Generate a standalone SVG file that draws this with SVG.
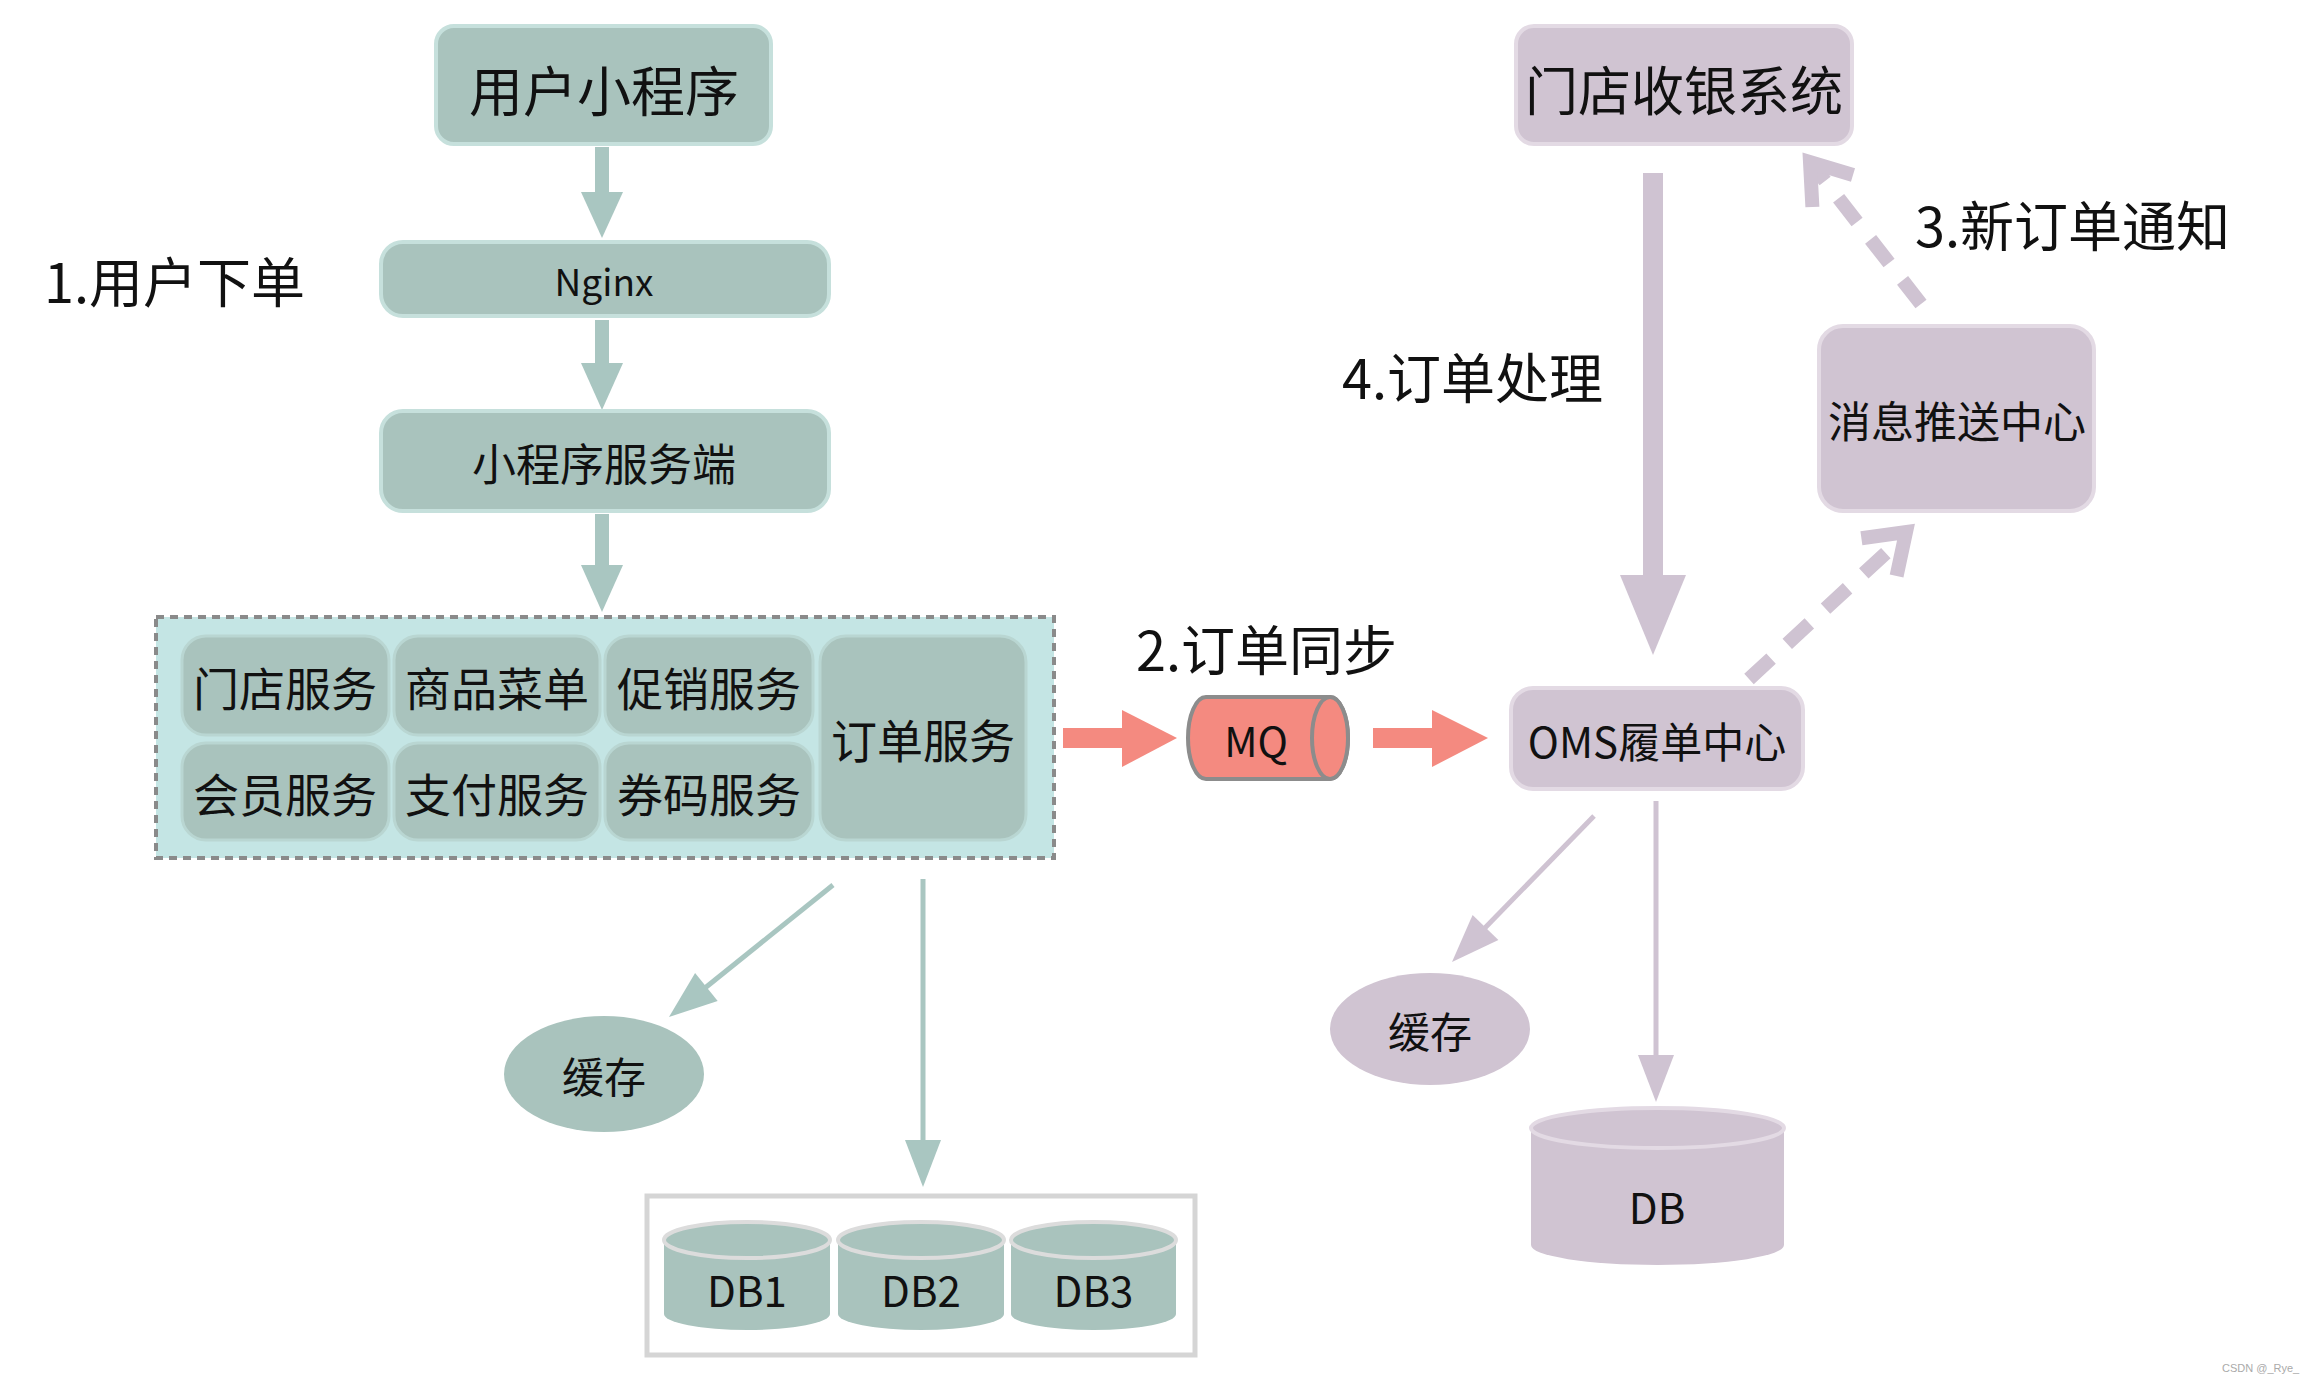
<svg xmlns="http://www.w3.org/2000/svg" width="2304" height="1382" viewBox="0 0 2304 1382">
<style>
text{font-family:"Noto Sans CJK SC","Noto Sans",sans-serif;fill:#111;dominant-baseline:central}
.c{text-anchor:middle}
.lbl{font-size:54px}
.tn{fill:#a9c3bd;stroke:#c6e0dc;stroke-width:4}
.pn{fill:#d0c4d2;stroke:#e3dae4;stroke-width:4}
.inner{fill:#a9c3bd;stroke:#b9d6d2;stroke-width:3}
.tarrow{fill:#a9c6c1}
.parrow{fill:#cfc3d2}
.rarrow{fill:#f48a80}
.dash{fill:none;stroke:#cfc3d2;stroke-width:14;stroke-dasharray:30 22}
.chev{fill:none;stroke:#cfc3d2;stroke-width:14;stroke-linejoin:miter}
.cyl{fill:#a9c3bd}
.cyltop{fill:#a9c3bd;stroke:#dcdcdc;stroke-width:4}
</style>
<rect width="2304" height="1382" fill="#fff"/>

<g id="connectors">
  <rect class="tarrow" x="595" y="147" width="14" height="50"/>
  <polygon class="tarrow" points="581,192 623,192 602,238"/>
  <rect class="tarrow" x="595" y="320" width="14" height="48"/>
  <polygon class="tarrow" points="581,363 623,363 602,410"/>
  <rect class="tarrow" x="595" y="514" width="14" height="55"/>
  <polygon class="tarrow" points="581,565 623,565 602,612"/>
  <rect class="rarrow" x="1063" y="728" width="62" height="20"/>
  <polygon class="rarrow" points="1122,710 1177,738 1122,767"/>
  <rect class="rarrow" x="1373" y="728" width="62" height="20"/>
  <polygon class="rarrow" points="1432,710 1488,738 1432,767"/>
  <rect class="parrow" x="1643" y="173" width="20" height="410"/>
  <polygon class="parrow" points="1620,575 1686,575 1653,655"/>
  <line class="dash" x1="1749" y1="679" x2="1900" y2="540"/>
  <polyline class="chev" points="1896.6,576 1906,532 1861.4,538.3"/>
  <line class="dash" x1="1921" y1="304" x2="1815" y2="168"/>
  <polyline class="chev" points="1853,175 1810,162 1812.4,207"/>
  <line x1="833" y1="885" x2="700" y2="992" stroke="#a9c6c1" stroke-width="5"/>
  <polygon class="tarrow" points="669,1017 717.7,1000.9 695.1,972.9"/>
  <line x1="923" y1="879" x2="923" y2="1145" stroke="#a9c6c1" stroke-width="5"/>
  <polygon class="tarrow" points="905,1140 941,1140 923,1187"/>
  <line x1="1594" y1="816" x2="1480" y2="933" stroke="#cfc3d2" stroke-width="5"/>
  <polygon class="parrow" points="1452,962 1498.4,940.1 1472.6,915.1"/>
  <line x1="1656" y1="801" x2="1656" y2="1060" stroke="#cfc3d2" stroke-width="5"/>
  <polygon class="parrow" points="1638,1055 1674,1055 1656,1102"/>
</g>

<g id="labels">
  <text class="lbl" x="44" y="279">1.用户下单</text>
  <text class="lbl" x="1136" y="647">2.订单同步</text>
  <text class="lbl" x="1915" y="223">3.新订单通知</text>
  <text class="lbl" x="1342" y="375">4.订单处理</text>
</g>

<g id="node-miniapp">
  <rect class="tn" x="436" y="26" width="335" height="118" rx="18"/>
  <text class="c" x="604" y="88" font-size="54">用户小程序</text>
</g>
<g id="node-nginx">
  <rect class="tn" x="381" y="242" width="448" height="74" rx="22"/>
  <text class="c" x="604" y="280" font-size="37">Nginx</text>
</g>
<g id="node-server">
  <rect class="tn" x="381" y="411" width="448" height="100" rx="22"/>
  <text class="c" x="604" y="462" font-size="44">小程序服务端</text>
</g>

<g id="node-services">
  <rect x="156" y="617" width="898" height="241" fill="#c4e5e4" stroke="#8a8a8a" stroke-width="4" stroke-dasharray="8 6"/>
  <g id="svc-store"><rect class="inner" x="182" y="636" width="207" height="99" rx="24"/><text class="c" x="285" y="686" font-size="46">门店服务</text></g>
  <g id="svc-menu"><rect class="inner" x="394" y="636" width="206" height="99" rx="24"/><text class="c" x="497" y="686" font-size="46">商品菜单</text></g>
  <g id="svc-promo"><rect class="inner" x="605" y="636" width="208" height="99" rx="24"/><text class="c" x="709" y="686" font-size="46">促销服务</text></g>
  <g id="svc-member"><rect class="inner" x="182" y="743" width="207" height="97" rx="24"/><text class="c" x="285" y="792" font-size="46">会员服务</text></g>
  <g id="svc-pay"><rect class="inner" x="394" y="743" width="206" height="97" rx="24"/><text class="c" x="497" y="792" font-size="46">支付服务</text></g>
  <g id="svc-coupon"><rect class="inner" x="605" y="743" width="208" height="97" rx="24"/><text class="c" x="709" y="792" font-size="46">券码服务</text></g>
  <g id="svc-order"><rect class="inner" x="820" y="636" width="206" height="204" rx="26"/><text class="c" x="923" y="738" font-size="46">订单服务</text></g>
</g>

<g id="node-mq">
  <path d="M1206,697 H1330 A18,41 0 0 1 1330,779 H1206 A18,41 0 0 1 1206,697 Z" fill="#f48a80" stroke="#8c8c8c" stroke-width="4"/>
  <ellipse cx="1330" cy="738" rx="18" ry="41" fill="#f48a80" stroke="#8c8c8c" stroke-width="4"/>
  <text class="c" x="1256" y="739" font-size="41">MQ</text>
</g>

<g id="node-oms">
  <rect class="pn" x="1511" y="688" width="292" height="101" rx="22"/>
  <text class="c" x="1657" y="739" font-size="42">OMS履单中心</text>
</g>
<g id="node-pos">
  <rect class="pn" x="1516" y="26" width="336" height="118" rx="18"/>
  <text class="c" x="1684" y="88" font-size="53">门店收银系统</text>
</g>
<g id="node-push">
  <rect class="pn" x="1819" y="326" width="275" height="185" rx="24"/>
  <text class="c" x="1957" y="419" font-size="43">消息推送中心</text>
</g>

<g id="node-cache-left">
  <ellipse cx="604" cy="1074" rx="100" ry="58" fill="#a9c3bd"/>
  <text class="c" x="604" y="1074" font-size="42">缓存</text>
</g>
<g id="node-cache-right">
  <ellipse cx="1430" cy="1029" rx="100" ry="56" fill="#d0c4d2"/>
  <text class="c" x="1430" y="1029" font-size="42">缓存</text>
</g>

<g id="node-dbs">
  <rect x="647" y="1196" width="548" height="159" fill="#fff" stroke="#d5d5d5" stroke-width="5"/>
  <g id="db1">
    <path class="cyl" d="M664,1240 A83,18 0 0 1 830,1240 V1314 A83,16 0 0 1 664,1314 Z"/>
    <ellipse class="cyltop" cx="747" cy="1240" rx="83" ry="18"/>
    <text class="c" x="747" y="1288" font-size="42">DB1</text>
  </g>
  <g id="db2">
    <path class="cyl" d="M838,1240 A83,18 0 0 1 1004,1240 V1314 A83,16 0 0 1 838,1314 Z"/>
    <ellipse class="cyltop" cx="921" cy="1240" rx="83" ry="18"/>
    <text class="c" x="921" y="1288" font-size="42">DB2</text>
  </g>
  <g id="db3">
    <path class="cyl" d="M1011,1240 A82.5,18 0 0 1 1176,1240 V1314 A82.5,16 0 0 1 1011,1314 Z"/>
    <ellipse class="cyltop" cx="1093.5" cy="1240" rx="82.5" ry="18"/>
    <text class="c" x="1093.5" y="1288" font-size="42">DB3</text>
  </g>
</g>

<g id="node-db">
  <path d="M1531,1128 A126.5,20 0 0 1 1784,1128 V1245 A126.5,20 0 0 1 1531,1245 Z" fill="#d0c4d2"/>
  <ellipse cx="1657.5" cy="1128" rx="126.5" ry="20" fill="#d0c4d2" stroke="#e3dae4" stroke-width="4"/>
  <text class="c" x="1657" y="1205" font-size="42">DB</text>
</g>

<text x="2222" y="1368" font-size="11" style="fill:#aaa;font-family:'Liberation Sans',sans-serif">CSDN @_Rye_</text>
</svg>
